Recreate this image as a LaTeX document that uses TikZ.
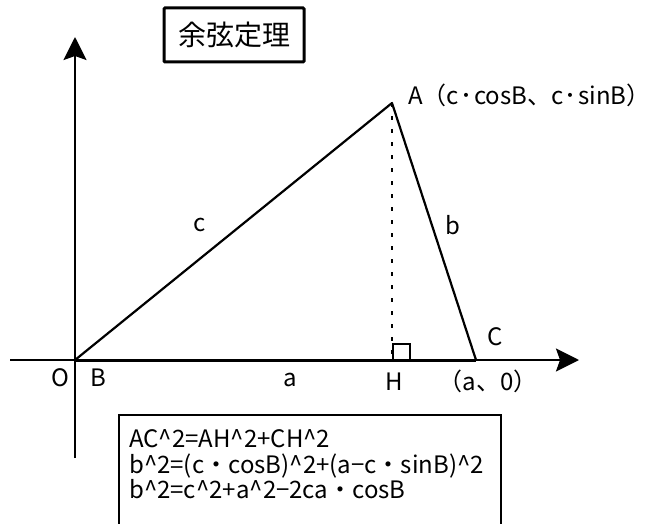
\documentclass[tikz,border=0pt]{standalone}
\usepackage{fontspec}
\setmainfont{Noto Sans CJK JP}
\usetikzlibrary{arrows.meta}
\newcommand{\hdot}{\kern1.5pt ･\kern1.5pt}
\begin{document}
\begin{tikzpicture}[x=1pt,y=-1pt,
  lbl/.style={font=\fontsize{24}{24}\selectfont, inner sep=0pt, anchor=base},
  fml/.style={font=\fontsize{24}{25}\selectfont, inner sep=0pt, anchor=base west},
  axis/.style={line width=2.4pt, -{Stealth[length=23pt,width=23pt,inset=4pt]}},
  side/.style={line width=2.2pt, line join=round},
  titlebox/.style={draw, line width=3pt, rounded corners=1pt, minimum width=140pt, minimum height=54pt, inner sep=0pt, font=\fontsize{28}{28}\selectfont}]
\useasboundingbox (0,0) rectangle (658,524);
% points
\coordinate (B) at (75,360);
\coordinate (A) at (392,103);
\coordinate (C) at (476,360);
\coordinate (H) at (392,360);
\coordinate (xl) at (10,360);
\coordinate (xr) at (579,360);
\coordinate (yb) at (75,458);
\coordinate (yt) at (75,37);
% axes
\draw[axis] (xl) -- (xr);
\draw[axis] (yb) -- (yt);
% triangle
\draw[side] (B) -- (A) -- (C);
\draw[line width=3pt] (B) -- (C);
\draw[line width=2.2pt, dash pattern=on 4pt off 9pt] (A) -- (H);
\draw[line width=2pt] (393,360) -- (393,344) -- (410,344) -- (410,360);
% title
\node[titlebox] (title) at (234,35) {余弦定理};
% labels
\node[lbl, anchor=base west] (lA) at (408,105) {A（c\hdot cosB、c\hdot sinB）};
\node[lbl] (lc) at (200,231) {c};
\node[lbl] (lb) at (453,234) {b};
\node[lbl] (lC) at (495,345) {C};
\node[lbl] (lO) at (60,386) {O};
\node[lbl] (lB) at (98,386) {B};
\node[lbl] (la) at (290,386) {a};
\node[lbl] (lH) at (394,390) {H};
\node[lbl] (lC0) at (488,390) {（a、0）};
% formula box
\draw[line width=2pt] (119,540) -- (119,415) -- (501,415) -- (501,540);
\node[fml] (f1) at (129,447) {AC\textasciicircum 2=AH\textasciicircum 2+CH\textasciicircum 2};
\node[fml] (f2) at (129,473) {b\textasciicircum 2=(c・cosB)\textasciicircum 2+(a−c・sinB)\textasciicircum 2};
\node[fml] (f3) at (129,498) {b\textasciicircum 2=c\textasciicircum 2+a\textasciicircum 2−2ca・cosB};
\end{tikzpicture}
\end{document}
